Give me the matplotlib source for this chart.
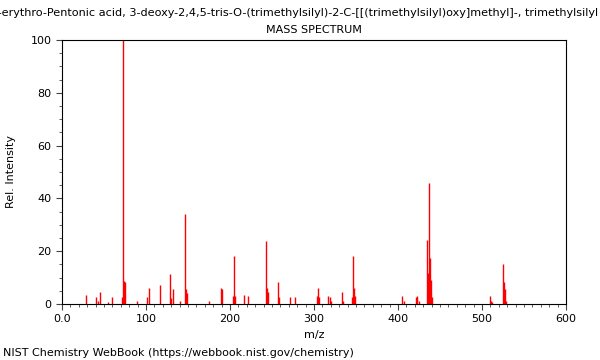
import matplotlib
matplotlib.use('Agg')
import matplotlib.pyplot as plt
from matplotlib.ticker import MultipleLocator, FixedLocator, FixedFormatter

# peak list (m/z, relative intensity)
mz = [28, 41, 43, 45, 55, 59, 72, 73, 74, 75, 89, 101, 103, 117,
      129, 130, 132, 141, 147, 148, 149, 175, 189, 191, 203, 205, 206,
      217, 221, 243, 244, 245, 257, 258, 271, 277, 303, 305, 306,
      317, 319, 320, 333, 334, 345, 347, 348, 349, 405, 407,
      421, 423, 425, 435, 436, 437, 438, 439, 440,
      510, 511, 512, 525, 526, 527, 528]
intensity = [3.3, 2.6, 1.3, 4.4, 0.8, 2.8, 2.5, 100, 8.7, 8.4, 1.3, 2.5, 6.1, 7.1,
             11.5, 2.2, 5.5, 1.3, 34, 5.5, 4.3, 1.0, 5.9, 5.5, 3.0, 18, 3.0,
             3.5, 3.1, 24, 6.1, 4.4, 8.3, 2.5, 2.8, 2.6, 3.2, 6.0, 2.5,
             3.0, 2.7, 1.3, 4.5, 1.3, 2.5, 18, 6.0, 3.0, 2.9, 1.3,
             2.6, 3.0, 1.3, 24.3, 11.7, 45.8, 17.5, 9.2, 2.8,
             3.2, 1.3, 0.9, 15.3, 8.3, 5.5, 1.3]

x_ticks = [0, 100, 200, 300, 400, 500, 600]
x_labels = ['0.0', '100', '200', '300', '400', '500', '600']
y_ticks = [0, 20, 40, 60, 80, 100]

title = ('D-erythro-Pentonic acid, 3-deoxy-2,4,5-tris-O-(trimethylsilyl)-2-C-'
         '[[(trimethylsilyl)oxy]methyl]-, trimethylsilyl ester')

fig = plt.figure(figsize=(6, 3.6), dpi=100)
ax = fig.add_axes([62 / 600, 1 - 304 / 360, 504 / 600, 264 / 360])

ax.vlines(mz, 0, intensity, colors='#ff0000', linewidth=1)

ax.set_xlim(0, 600)
ax.set_ylim(0, 100)
ax.xaxis.set_major_locator(FixedLocator(x_ticks))
ax.xaxis.set_major_formatter(FixedFormatter(x_labels))
ax.xaxis.set_minor_locator(MultipleLocator(10))
ax.yaxis.set_major_locator(FixedLocator(y_ticks))
ax.yaxis.set_minor_locator(MultipleLocator(5))
ax.tick_params(which='major', length=4, labelsize=8, color='#444444')
ax.tick_params(which='minor', length=2, color='#444444')
for s in ax.spines.values():
    s.set_linewidth(0.8)

ax.set_xlabel('m/z', fontsize=8)
ax.set_ylabel('Rel. Intensity', fontsize=8)
ax.yaxis.set_label_coords(-46 / 504, 0.5)

# long compound name runs off both edges, as in the source
fig.text(310 / 600, 1 - 13 / 360, title, ha='center', va='center', fontsize=8.15)
fig.text(314 / 600, 1 - 30 / 360, 'MASS SPECTRUM', ha='center', va='center', fontsize=8)
fig.text(3 / 600, 1 - 353 / 360, 'NIST Chemistry WebBook (https://webbook.nist.gov/chemistry)',
         ha='left', va='center', fontsize=8)

fig.savefig('out.png', dpi=100)
